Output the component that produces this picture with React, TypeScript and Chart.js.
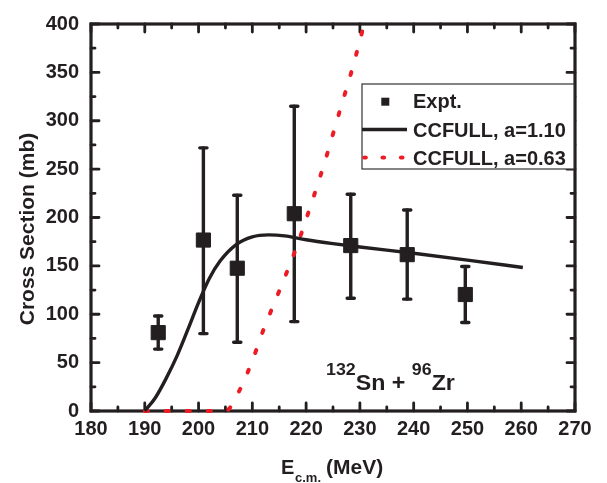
import { useEffect, useRef } from 'react';
import { Chart, registerables } from 'chart.js';

Chart.register(...registerables);

const FONT = '"Liberation Sans", Arial, Helvetica, sans-serif';
const INK = '#231f20';
const RED = '#ed1c24';

// Experimental data (E_cm in MeV, cross section in mb, error bar bounds)
const exptE = [192.5, 200.9, 207.2, 217.8, 228.3, 238.8, 249.6];
const exptSigma = [81, 176.7, 147.6, 203.9, 171, 161.6, 120.4];
const exptLow = [64, 80, 71, 92.4, 116.6, 115.6, 91.4];
const exptHigh = [98.2, 272, 223, 315, 224, 207.7, 149.4];

// CCFULL, a = 1.10
const fitE110 = [190, 192, 194, 196, 198, 200, 202, 204, 207, 210, 213, 216, 220, 225, 230, 240, 250, 260.3];
const fitS110 = [0, 14, 34, 57, 84, 112, 137, 155, 172, 180, 182, 181, 177, 173, 169.5, 163, 156, 148.3];

// CCFULL, a = 0.63
const fitE063 = [190, 205, 207.5, 210, 212, 215, 218, 220.6, 223.5, 226.3, 228.5, 230.6, 231.2];
const fitS063 = [0, 0, 20, 52, 83, 124, 166, 208, 258, 311, 352, 396, 410];

const xMin = 180, xMax = 270, xStep = 10, xMinor = 5;
const yMin = 0, yMax = 400, yStep = 50, yMinor = 25;

const legendLabels = ['Expt.', 'CCFULL, a=1.10', 'CCFULL, a=0.63'];

const framePlugin = {
  id: 'frameTicks',
  beforeDatasetsDraw(chart: any) {
    const { ctx, chartArea: a, scales } = chart;
    const xs = scales.x, ys = scales.y;
    ctx.save();
    ctx.strokeStyle = INK;
    ctx.lineCap = 'round';
    ctx.lineWidth = 2.8;
    for (let v = xMin; v <= xMax + 1e-9; v += xMinor) {
      const major = Math.abs(v % xStep) < 1e-9;
      const len = major ? 8 : 4;
      const px = xs.getPixelForValue(v);
      ctx.beginPath();
      ctx.moveTo(px, a.bottom); ctx.lineTo(px, a.bottom - len);
      ctx.moveTo(px, a.top); ctx.lineTo(px, a.top + len);
      ctx.stroke();
    }
    for (let v = yMin; v <= yMax + 1e-9; v += yMinor) {
      const major = Math.abs(v % yStep) < 1e-9;
      const len = major ? 8 : 4;
      const py = ys.getPixelForValue(v);
      ctx.beginPath();
      ctx.moveTo(a.left, py); ctx.lineTo(a.left + len, py);
      ctx.moveTo(a.right, py); ctx.lineTo(a.right - len, py);
      ctx.stroke();
    }
    ctx.lineCap = 'square';
    ctx.lineWidth = 3.2;
    ctx.strokeRect(a.left, a.top, a.right - a.left, a.bottom - a.top);

    // error bars
    ctx.lineCap = 'round';
    ctx.lineWidth = 3.4;
    for (let i = 0; i < exptE.length; i++) {
      const px = xs.getPixelForValue(exptE[i]);
      const pl = ys.getPixelForValue(exptLow[i]);
      const ph = ys.getPixelForValue(exptHigh[i]);
      ctx.beginPath();
      ctx.moveTo(px, pl); ctx.lineTo(px, ph);
      ctx.stroke();
      ctx.beginPath();
      ctx.moveTo(px - 3.6, pl); ctx.lineTo(px + 3.6, pl);
      ctx.moveTo(px - 3.6, ph); ctx.lineTo(px + 3.6, ph);
      ctx.stroke();
    }
    ctx.restore();
  },
  afterDraw(chart: any) {
    const { ctx } = chart;
    ctx.save();
    ctx.fillStyle = INK;
    ctx.textBaseline = 'alphabetic';

    // y title
    ctx.save();
    ctx.translate(28, 229);
    ctx.rotate(-Math.PI / 2);
    ctx.textAlign = 'center';
    ctx.textBaseline = 'middle';
    ctx.font = `bold 21px ${FONT}`;
    ctx.fillText('Cross Section (mb)', 0, 0);
    ctx.restore();

    // x title
    ctx.textAlign = 'left';
    ctx.font = `bold 20px ${FONT}`;
    ctx.fillText('E', 281, 474);
    ctx.font = `bold 13px ${FONT}`;
    ctx.fillText('c.m.', 295, 481.5);
    ctx.font = `bold 21px ${FONT}`;
    ctx.fillText('(MeV)', 326, 474);

    // annotation (slightly stretched horizontally like the original)
    ctx.save();
    ctx.translate(326, 0);
    ctx.scale(1.08, 1);
    let x = 0;
    const parts: [string, number, number][] = [
      ['132', 16.5, 375], ['Sn + ', 21.5, 390], ['96', 16.5, 375], ['Zr', 21.5, 390],
    ];
    for (const [t, s, b] of parts) {
      ctx.font = `bold ${s}px ${FONT}`;
      ctx.fillText(t, x, b);
      x += ctx.measureText(t).width;
    }
    ctx.restore();

    // legend
    const bx = 362, by = 84, bw = 212, bh = 85;
    ctx.fillStyle = '#ffffff';
    ctx.fillRect(bx, by, bw, bh);
    ctx.strokeStyle = '#333333';
    ctx.lineWidth = 1.2;
    ctx.strokeRect(bx, by, bw, bh);
    ctx.fillStyle = INK;
    ctx.fillRect(385.3 - 4, 101.7 - 4, 8, 8);
    ctx.strokeStyle = INK;
    ctx.lineWidth = 3.4;
    ctx.lineCap = 'butt';
    ctx.beginPath();
    ctx.moveTo(bx, 129.5); ctx.lineTo(407, 129.5);
    ctx.stroke();
    ctx.fillStyle = RED;
    for (const dx of [365, 383.3, 401.7]) {
      ctx.beginPath();
      ctx.ellipse(dx, 157.5, 2.8, 2, 0, 0, Math.PI * 2);
      ctx.fill();
    }
    ctx.fillStyle = INK;
    ctx.font = `bold 20px ${FONT}`;
    ctx.fillText(legendLabels[0], 413, 107.5);
    ctx.fillText(legendLabels[1], 413, 136.7);
    ctx.fillText(legendLabels[2], 413, 165);
    ctx.restore();
  },
};

export default function App() {
  const ref = useRef<HTMLCanvasElement | null>(null);
  useEffect(() => {
    if (!ref.current) return;
    const chart = new Chart(ref.current, {
      type: 'scatter',
      data: {
        datasets: [
          {
            label: legendLabels[0],
            data: exptE.map((x, i) => ({ x, y: exptSigma[i] })),
            showLine: false,
            pointStyle: 'rect',
            pointRadius: 10,
            pointBackgroundColor: INK,
            pointBorderColor: INK,
            pointBorderWidth: 1,
          },
          {
            label: legendLabels[1],
            data: fitE110.map((x, i) => ({ x, y: fitS110[i] })),
            showLine: true,
            pointRadius: 0,
            borderColor: INK,
            borderWidth: 3.4,
            cubicInterpolationMode: 'monotone',
            clip: { left: 5, right: 5, top: 0, bottom: 5 },
          },
          {
            label: legendLabels[2],
            data: fitE063.map((x, i) => ({ x, y: fitS063[i] })),
            showLine: true,
            pointRadius: 0,
            borderColor: RED,
            borderWidth: 4,
            borderDash: [3, 18],
            borderCapStyle: 'round',
            cubicInterpolationMode: 'monotone',
            clip: { left: 5, right: 5, top: 0, bottom: 5 },
          },
        ],
      } as any,
      options: {
        animation: false,
        responsive: false,
        maintainAspectRatio: false,
        events: [],
        layout: { padding: { top: 20, right: 32, left: 0, bottom: 0 } },
        plugins: { legend: { display: false }, tooltip: { enabled: false } },
        scales: {
          x: {
            type: 'linear',
            min: xMin,
            max: xMax,
            grid: { display: false, drawTicks: false },
            border: { display: false },
            ticks: { stepSize: xStep, padding: 6, color: INK, font: { family: FONT, size: 20, weight: 'bold' } },
            afterFit: (s: any) => { s.height = 72; },
          },
          y: {
            type: 'linear',
            min: yMin,
            max: yMax,
            grid: { display: false, drawTicks: false },
            border: { display: false },
            ticks: { stepSize: yStep, padding: 12, color: INK, font: { family: FONT, size: 20, weight: 'bold' } },
            afterFit: (s: any) => { s.width = 91; },
          },
        },
      } as any,
      plugins: [framePlugin],
    });
    return () => chart.destroy();
  }, []);
  return (
    <div style={{ position: 'absolute', left: 0, top: 0, width: 607, height: 483, background: '#fff' }}>
      <canvas ref={ref} width={607} height={483} style={{ width: 607, height: 483, display: 'block' }} />
    </div>
  );
}
